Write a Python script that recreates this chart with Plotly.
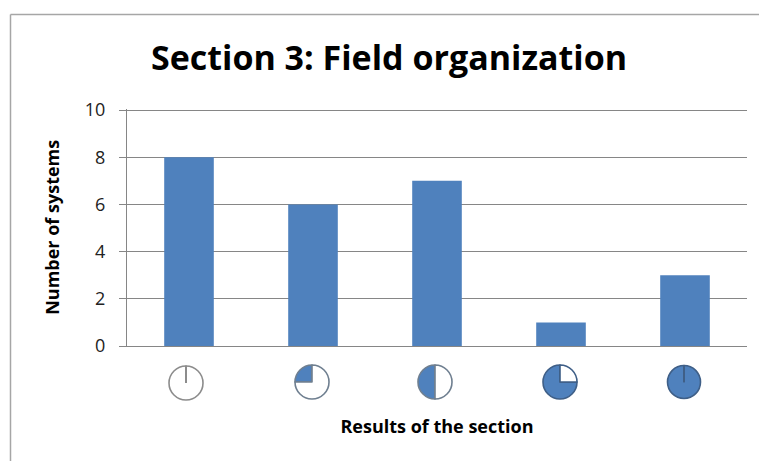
import plotly.graph_objects as go

W, H = 759, 461
title = "Section 3: Field organization"
categories = ["Not met", "Quarter", "Half", "Three quarters", "Full"]
systems = [8, 6, 7, 1, 3]
icon_fill = [0, 0.25, 0.5, 0.75, 1]
icon_start = [0, -90, 180, 90, 0]
icon_cx = [186, 312, 435, 560, 684]
icon_cy = [383, 382, 382, 382, 382]
icon_d = [34, 34, 34, 34, 33]
BLUE = "#4F81BD"
GRID = "#868686"
FONT = "Open Sans"
Y_TOP = 10.06
PLOT_BOTTOM = 346
PX_PER_UNIT = 23.6

fig = go.Figure()
fig.add_trace(go.Bar(x=categories, y=systems, marker=dict(color=BLUE, line_width=0),
                     width=0.4, showlegend=False))

shapes = [
    dict(type="line", xref="paper", yref="paper", x0=10.5/W, x1=1, y0=1-14.5/H, y1=1-14.5/H,
         line=dict(color="#A6A6A6", width=1.5)),
    dict(type="line", xref="paper", yref="paper", x0=10.5/W, x1=10.5/W, y0=0, y1=1-14.5/H,
         line=dict(color="#A6A6A6", width=1.5)),
]
for f, s, cx, cy, d in zip(icon_fill, icon_start, icon_cx, icon_cy, icon_d):
    edge = "#8C8C8C" if f < 0.75 else "#3F5F87"
    if f == 0.5 or f == 0.25:
        edge = "#6F7F90"
    fig.add_trace(go.Pie(
        values=[f, 1 - f], sort=False, direction="clockwise", rotation=s,
        marker=dict(colors=[BLUE, "#FFFFFF"], line=dict(color=edge, width=1.6)),
        textinfo="none", hoverinfo="skip", showlegend=False,
        domain=dict(x=[(cx - d/2)/W, (cx + d/2)/W], y=[1-(cy + d/2)/H, 1-(cy - d/2)/H]),
    ))
    if f in (0, 1):
        shapes.append(dict(type="line", xref="paper", yref="paper",
                           x0=cx/W, x1=cx/W, y0=1-cy/H, y1=1-(cy - d/2)/H,
                           line=dict(color=edge, width=2)))

fig.update_layout(
    width=W, height=H, autosize=False,
    margin=dict(l=0, r=0, t=0, b=0),
    paper_bgcolor="white", plot_bgcolor="white",
    font=dict(family=FONT, color="#000000"),
    title=dict(text=f"<b>{title}</b>", x=389/W, xanchor="center", y=1-58/H, yanchor="middle",
               font=dict(size=34, family=FONT, color="#000000")),
    xaxis=dict(domain=[127/W, 747/W], showticklabels=False, ticks="", showline=True,
               linecolor=GRID, linewidth=1.2, automargin=False,
               title=dict(text="<b>Results of the section</b>", standoff=74,
                          font=dict(size=18, family=FONT))),
    yaxis=dict(domain=[1-PLOT_BOTTOM/H, 1-(PLOT_BOTTOM - PX_PER_UNIT*Y_TOP)/H], range=[0, Y_TOP],
               dtick=2, ticks="outside", ticklen=7,
               tickcolor=GRID, tickwidth=1, gridcolor=GRID, gridwidth=1, showline=True,
               linecolor=GRID, linewidth=1.2, automargin=False, zeroline=False,
               ticklabelstandoff=10,
               tickfont=dict(size=18, family=FONT, color="#222222"),
               title=dict(text="<b>Number of systems</b>", standoff=20,
                          font=dict(size=18, family=FONT))),
    shapes=shapes,
    bargap=0.6,
)
fig.write_html("out.html", config=dict(displayModeBar=False),
               post_script="document.body.style.margin='0';document.documentElement.style.overflow='hidden';")
